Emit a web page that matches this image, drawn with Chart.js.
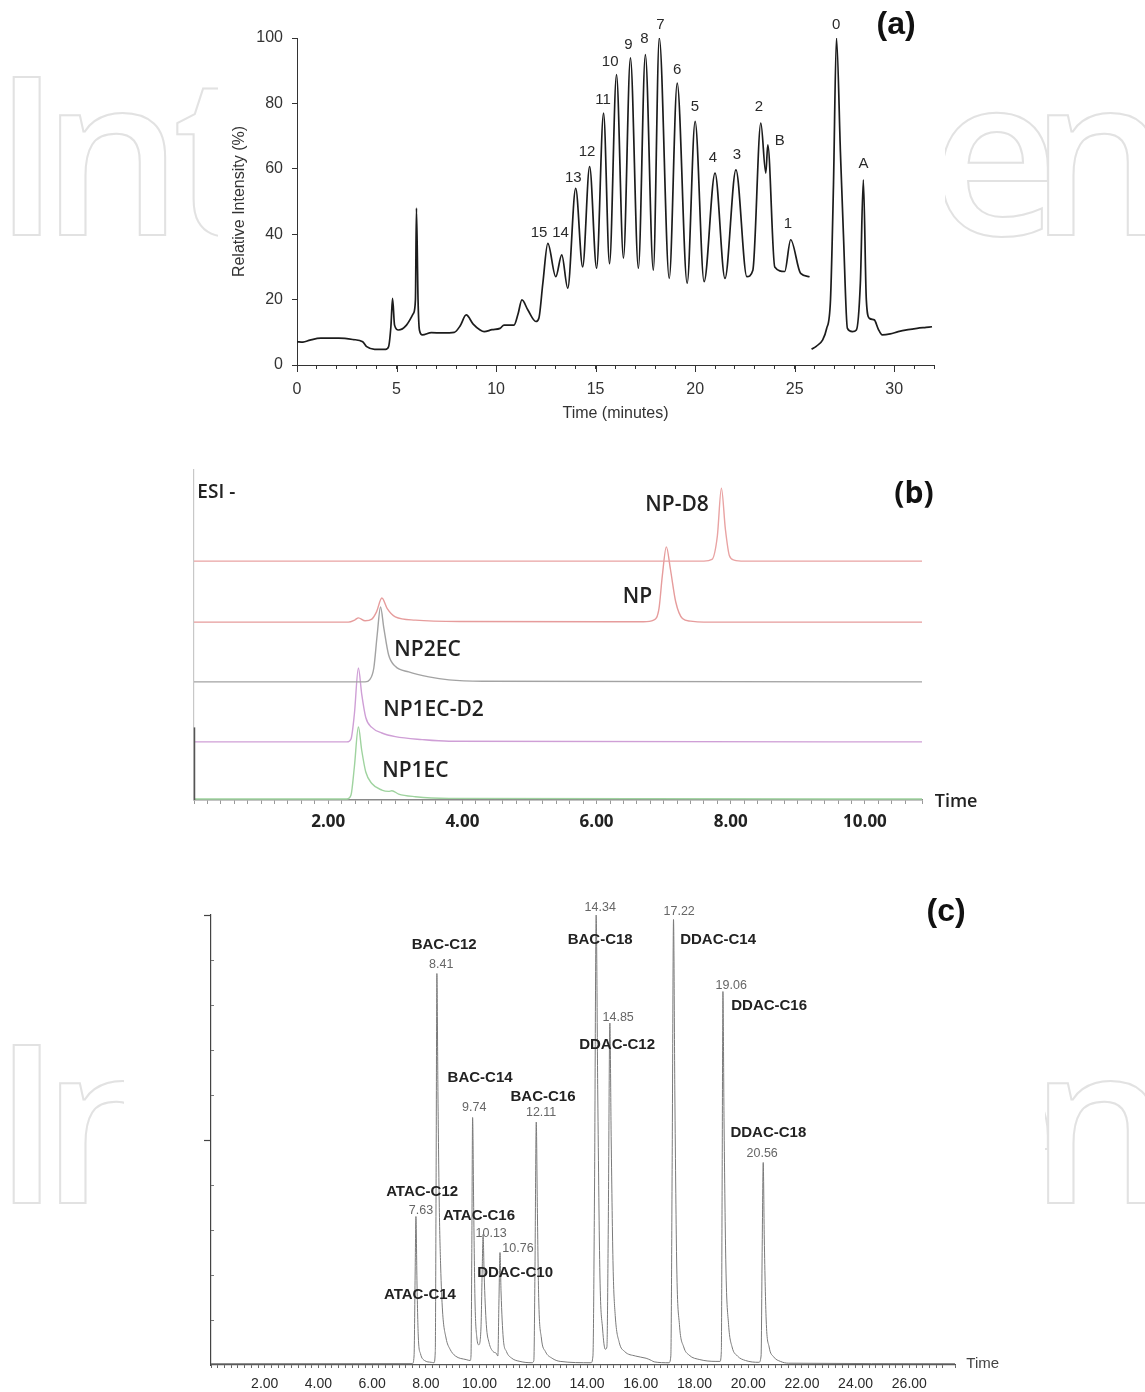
<!DOCTYPE html>
<html><head><meta charset="utf-8">
<script src="https://cdn.jsdelivr.net/npm/chart.js@4.4.1/dist/chart.umd.min.js"></script>
<style>
html,body{margin:0;padding:0;background:#fff;}
body{width:1145px;height:1392px;position:relative;overflow:hidden;}
.box{position:absolute;background:#fff;}
svg{position:absolute;left:0;top:0;}
canvas{display:block;}
</style></head><body>
<svg width="1145" height="1392">
 <g font-family="Open Sans" font-weight="600" font-size="221" fill="none" stroke="#e2e2e2" stroke-width="2">
  <text x="-7 42 173" y="235">Int</text>
  <text x="931 1030" y="235">en</text>
  <text x="-7 42 173" y="1203">Int</text>
  <text x="931 1030" y="1203">en</text>
 </g>
</svg>
<div class="box" style="left:218px;top:0;width:727px;height:440px"><canvas id="cA" width="727" height="440"></canvas></div>
<div class="box" style="left:150px;top:455px;width:845px;height:405px"><canvas id="cB" width="845" height="405"></canvas></div>
<div class="box" style="left:124px;top:870px;width:921px;height:522px"><canvas id="cC" width="921" height="522"></canvas></div>
<script>
// ---------------- Panel (a) data ----------------
const aTime1 = [0,0.3,0.65,1.2,2.1,2.8,3.3,3.5,3.9,4.45,4.6,4.72,4.8,4.9,5.1,5.5,5.85,5.95,6.0,6.08,6.15,6.3,6.75,7.3,7.9,8.2,8.5,8.85,9.2,9.4,9.8,10.2,10.4,10.9,11.1,11.3,11.6,12.0,12.15,12.35,12.6,13.0,13.3,13.6,14.0,14.35,14.7,15.05,15.4,15.7,16.05,16.4,16.75,17.15,17.5,17.9,18.2,18.7,19.1,19.6,20.0,20.45,21.0,21.5,22.05,22.6,22.9,23.3,23.55,23.65,24.0,24.5,24.8,25.3,25.75];
const aInt1  = [7.1,7.0,7.6,8.2,8.2,7.8,7.1,5.6,4.8,4.8,5.6,12,20.4,12.2,10.7,12.2,15.8,20,48,20,10.7,9.2,9.9,9.8,10,12,15.3,12.5,10.7,10.2,10.8,11.2,12.2,12.2,15.5,19.9,16.8,13.3,14.3,25,37.2,27,33.7,23.5,54,30,60.7,29.6,77,31,88.8,32.7,93.9,29.6,94.9,29,100,26.5,86.2,25,74.5,25.5,58.7,26.5,59.7,27,29,74,58.7,67.3,30,28.6,38.3,28,27];
const aTime2 = [25.85,26.1,26.4,26.6,26.8,26.95,27.1,27.3,27.45,27.65,27.9,28.1,28.3,28.45,28.6,28.75,29.0,29.2,29.4,29.8,30.2,30.7,31.15,31.6,31.9];
const aInt2  = [4.8,5.8,7.6,11,19.9,55,100,65,40,11.2,10.2,10.7,25,56.6,20,14.3,13.8,11,9.2,9.5,10.2,10.8,11.2,11.5,11.7];
const aPeakNames = ['15','14','13','12','11','10','9','8','7','6','5','4','3','2','B','1','0','A'];
const aPeakLabelT = [12.16,13.24,13.88,14.57,15.38,15.73,16.65,17.45,18.26,19.1,19.99,20.9,22.1,23.2,24.25,24.66,27.08,28.46];
const aPeakLabelV = [40.3,40.3,57.3,65.3,81.1,92.7,97.8,99.8,104,90.3,78.8,63.3,64.3,78.8,68.4,43.1,104,61.4];
const aXTicks = [0,5,10,15,20,25,30];
const aYTicks = [0,20,40,60,80,100];

// ---------------- Panel (b) data ----------------
const npd8Time = [0,7.6,7.72,7.8,7.86,7.92,7.98,8.05,8.2,10.85];
const npd8Sig  = [72.4,72.4,72.9,80,94.5,82,74,72.7,72.4,72.4];
const npTime = [0,2.3,2.4,2.45,2.55,2.65,2.72,2.8,2.88,3.0,3.3,4.0,6.7,6.85,6.93,6.98,7.04,7.1,7.18,7.28,7.4,7.6,10.85];
const npSig  = [53.9,53.9,54.6,55.2,54.3,54.8,57,61.2,58,55.5,54.5,54.1,54,54.5,58,68,76.7,70,60,55,54.2,53.9,53.9];
const np2ecTime = [0,2.55,2.62,2.68,2.73,2.78,2.83,2.9,3.0,3.2,3.5,3.8,4.3,10.85];
const np2ecSig  = [35.8,35.8,36.5,40,50,58.5,52,44,40.5,38.8,37.3,36.4,36,35.8];
const np1ecd2Time = [0,2.28,2.34,2.39,2.45,2.5,2.56,2.65,2.8,3.0,3.4,3.8,10.85];
const np1ecd2Sig  = [17.6,17.6,18.5,26,40,32,25,22,20.3,19.2,18.3,17.8,17.6];
const np1ecTime = [0,2.28,2.34,2.39,2.45,2.5,2.56,2.65,2.8,2.9,2.95,3.05,3.3,3.8,10.85];
const np1ecSig  = [0.3,0.3,1.5,10,22.1,15,8.5,5,3,2.6,2.8,1.8,1,0.5,0.3];
const bTraceNames = ['NP-D8','NP','NP2EC','NP1EC-D2','NP1EC'];
const bLabelX = [7.2,6.61,3.48,3.57,3.3];
const bLabelY = [89.4,61.5,45.5,27.3,8.8];
const bXTickValues = [2,4,6,8,10];
const bXTickLabels = ['2.00','4.00','6.00','8.00','10.00'];

// ---------------- Panel (c) data ----------------
const cTime = [0,7.5,7.56,7.6,7.63,7.67,7.72,7.8,7.95,8.2,8.3,
  8.35,8.38,8.41,8.45,8.5,8.55,8.62,8.75,8.9,9.1,9.5,9.65,
  9.68,9.71,9.74,9.78,9.83,9.9,9.97,
  10.05,10.1,10.13,10.17,10.25,10.35,10.5,10.62,
  10.68,10.72,10.76,10.8,10.88,11.0,11.2,11.5,11.95,
  12.02,12.06,12.11,12.15,12.2,12.3,12.45,12.7,13.0,14.15,
  14.22,14.28,14.34,14.4,14.48,14.58,14.68,14.74,
  14.79,14.85,14.9,14.97,15.05,15.2,15.4,15.8,16.2,16.4,16.5,17.05,
  17.12,17.17,17.22,17.27,17.34,17.44,17.6,17.8,18.2,18.8,18.95,
  19.0,19.03,19.06,19.1,19.17,19.27,19.4,19.6,19.9,20.4,
  20.48,20.52,20.56,20.6,20.67,20.78,20.95,21.2,21.5,27.7];
const cSig = [0.3,0.3,2,20,33,18,6,2.5,1,0.6,0.5,
  3,40,87,60,35,22,12,6,3.5,2,1.2,1,
  2,25,55,35,14,6,4.5,
  8,22,29,20,9,5,3,2.6,
  2,14,25,16,6,3,1.5,0.8,0.5,
  1,20,54,35,15,6,3,1.5,0.8,0.5,
  2,40,100,60,20,8,3.5,4,
  30,76,50,22,11,5,3,2,1.5,1,0.7,0.5,
  2,45,99,60,22,9,4,2.2,1.2,0.8,0.8,
  3,40,83,55,22,9,4,2,1,0.6,
  2,25,45,28,10,4,1.8,0.8,0.4,0.3];
const cCompounds = ['BAC-C12','BAC-C18','DDAC-C14','DDAC-C16','DDAC-C12','BAC-C14','BAC-C16','DDAC-C18','ATAC-C12','ATAC-C16','DDAC-C10','ATAC-C14'];
const cCompX = [8.68,14.49,18.88,20.78,15.12,10.02,12.36,20.75,7.86,9.98,11.32,7.78];
const cCompY = [93.3,94.4,94.4,79.8,71.1,63.8,59.6,51.6,38.4,33.1,20.4,15.6];
const cRtLabels = ['8.41','14.34','17.22','19.06','14.85','9.74','12.11','20.56','7.63','10.13','10.76'];
const cRtX = [8.57,14.49,17.43,19.37,15.16,9.8,12.29,20.52,7.82,10.43,11.43];
const cRtY = [88.9,101.6,100.7,84.4,77.3,57.3,56.2,46.9,34.4,29.3,25.8];
const cXTickValues = [2,4,6,8,10,12,14,16,18,20,22,24,26];
const cXTickLabels = ['2.00','4.00','6.00','8.00','10.00','12.00','14.00','16.00','18.00','20.00','22.00','24.00','26.00'];

// ---------------- helpers ----------------
const pts = (t, v) => t.map((x, i) => ({x: x, y: v[i]}));
const near = (list, v) => list.findIndex(k => Math.abs(k - v) < 1e-6);
function textLayer(id, items) {
  return { id: id, afterDraw(chart) {
    const ctx = chart.ctx, xs = chart.scales.x, ys = chart.scales.y;
    ctx.save();
    items.forEach(it => {
      ctx.font = it.font; ctx.fillStyle = it.color || '#222';
      ctx.textAlign = it.align || 'center'; ctx.textBaseline = 'middle';
      ctx.fillText(it.text, xs.getPixelForValue(it.x), ys.getPixelForValue(it.y));
    });
    ctx.restore();
  }};
}
const SANS = '"Liberation Sans", Arial, sans-serif';
const OPEN = '"Open Sans", sans-serif';

// ---------------- Chart (a) ----------------
const aItems = aPeakNames.map((n, i) => ({text: n, x: aPeakLabelT[i], y: aPeakLabelV[i], font: '15px ' + SANS, color: '#2a2a2a'}));
aItems.push({text: '(a)', x: 30.1, y: 104, font: 'bold 32px ' + SANS, color: '#111'});
const aMajorTicks = { id: 'aMajor', afterDraw(chart) {
  const ctx = chart.ctx, xs = chart.scales.x, bottom = chart.chartArea.bottom;
  ctx.save(); ctx.strokeStyle = '#333'; ctx.lineWidth = 1;
  aXTicks.forEach(v => { const p = Math.round(xs.getPixelForValue(v)) + 0.5; ctx.beginPath(); ctx.moveTo(p, bottom); ctx.lineTo(p, bottom + 7); ctx.stroke(); });
  ctx.restore();
}};
new Chart(document.getElementById('cA'), {
  type: 'line',
  data: { datasets: [
    { data: pts(aTime1, aInt1) },
    { data: pts(aTime2, aInt2) }
  ]},
  options: {
    responsive: false, animation: false,
    layout: { padding: { top: 38, right: 8, left: 0, bottom: 0 } },
    plugins: { legend: { display: false }, tooltip: { enabled: false } },
    elements: { point: { radius: 0 }, line: { borderWidth: 1.7, borderColor: '#1c1c1c', cubicInterpolationMode: 'monotone', fill: false } },
    scales: {
      x: { type: 'linear', min: 0, max: 32,
        ticks: { stepSize: 1, autoSkip: false, maxRotation: 0, padding: 11, color: '#333', font: { family: SANS, size: 16 },
          callback: v => near(aXTicks, v) >= 0 ? String(aXTicks[near(aXTicks, v)]) : '' },
        grid: { drawOnChartArea: false, tickLength: 4, color: '#333' },
        border: { color: '#333', width: 1 },
        title: { display: true, text: 'Time (minutes)', color: '#333', font: { family: SANS, size: 16 }, padding: { top: 0, bottom: 17 } },
        afterFit: s => { s.height = 75; } },
      y: { min: 0, max: 100,
        ticks: { stepSize: 20, padding: 9, color: '#333', font: { family: SANS, size: 16 },
          callback: v => near(aYTicks, v) >= 0 ? String(v) : '' },
        grid: { drawOnChartArea: false, tickLength: 5, color: '#333' },
        border: { color: '#333', width: 1 },
        title: { display: true, text: 'Relative Intensity (%)', color: '#333', font: { family: SANS, size: 16 }, padding: { top: 12, bottom: 0 } },
        afterFit: s => { s.width = 79; } }
    }
  },
  plugins: [textLayer('txtA', aItems), aMajorTicks]
});

// ---------------- Chart (b) ----------------
const bColors = ['#e9a3a3', '#e69c9c', '#a3a3a3', '#cf9fd6', '#9fd39f'];
const bSeries = [pts(npd8Time, npd8Sig), pts(npTime, npSig), pts(np2ecTime, np2ecSig), pts(np1ecd2Time, np1ecd2Sig), pts(np1ecTime, np1ecSig)];
const bItems = bTraceNames.map((n, i) => ({text: n, x: bLabelX[i], y: bLabelY[i], font: '600 21px ' + OPEN, color: '#222'}));
bItems.push({text: 'ESI -', x: 0.05, y: 93.3, font: '600 19px ' + OPEN, color: '#222', align: 'left'});
bItems.push({text: '(b)', x: 10.73, y: 92.7, font: 'bold 30px ' + OPEN, color: '#111'});
bItems.push({text: 'Time', x: 11.04, y: -0.6, font: '600 18px ' + OPEN, color: '#222', align: 'left'});
const bAxisDark = { id: 'bDark', afterDraw(chart) {
  const ctx = chart.ctx, xs = chart.scales.x, ys = chart.scales.y;
  const p = Math.round(xs.getPixelForValue(0)) + 0.5;
  ctx.save(); ctx.strokeStyle = '#555'; ctx.lineWidth = 1.5;
  ctx.beginPath(); ctx.moveTo(p, ys.getPixelForValue(22)); ctx.lineTo(p, ys.getPixelForValue(0)); ctx.stroke();
  ctx.restore();
}};
new Chart(document.getElementById('cB'), {
  type: 'line',
  data: { datasets: bSeries.map((d, i) => ({ data: d, borderColor: bColors[i] })) },
  options: {
    responsive: false, animation: false,
    layout: { padding: { top: 15, right: 73, left: 0, bottom: 0 } },
    plugins: { legend: { display: false }, tooltip: { enabled: false } },
    elements: { point: { radius: 0 }, line: { borderWidth: 1.4, cubicInterpolationMode: 'monotone', fill: false } },
    scales: {
      x: { type: 'linear', min: 0, max: 10.85,
        ticks: { stepSize: 0.2, autoSkip: false, maxRotation: 0, padding: 8, color: '#222', font: { family: OPEN, size: 17, weight: 'bold' },
          callback: v => near(bXTickValues, v) >= 0 ? bXTickLabels[near(bXTickValues, v)] : '' },
        grid: { drawOnChartArea: false, tickLength: 4, color: '#9a9a9a' },
        border: { color: '#8a8a8a', width: 1.5 },
        afterFit: s => { s.height = 60; } },
      y: { min: 0, max: 100,
        ticks: { display: false },
        grid: { display: false },
        border: { display: true, color: '#c8c8c8', width: 1.2 },
        afterFit: s => { s.width = 44; } }
    }
  },
  plugins: [textLayer('txtB', bItems), bAxisDark]
});

// ---------------- Chart (c) ----------------
const cItems = cCompounds.map((n, i) => ({text: n, x: cCompX[i], y: cCompY[i], font: 'bold 15px ' + SANS, color: '#222'}));
cRtLabels.forEach((n, i) => cItems.push({text: n, x: cRtX[i], y: cRtY[i], font: '12.5px ' + SANS, color: '#666'}));
cItems.push({text: '(c)', x: 27.37, y: 100.7, font: 'bold 32px ' + SANS, color: '#111'});
cItems.push({text: 'Time', x: 28.12, y: 0.2, font: '15px ' + SANS, color: '#444', align: 'left'});
const cYMajor = [50, 100];
const cYTickStep = 10;
const cAxisTicks = { id: 'cTicks', afterDraw(chart) {
  const ctx = chart.ctx, ys = chart.scales.y, left = chart.chartArea.left;
  ctx.save(); ctx.strokeStyle = '#444'; ctx.lineWidth = 1.2;
  cYMajor.forEach(v => { const p = Math.round(ys.getPixelForValue(v)) + 0.5; ctx.beginPath(); ctx.moveTo(left - 7, p); ctx.lineTo(left, p); ctx.stroke(); });
  ctx.strokeStyle = '#777'; ctx.lineWidth = 1;
  for (let v = cYTickStep; v < 100; v += cYTickStep) {
    if (near(cYMajor, v) >= 0) continue;
    const p = Math.round(ys.getPixelForValue(v)) + 0.5;
    ctx.beginPath(); ctx.moveTo(left, p); ctx.lineTo(left + 3, p); ctx.stroke();
  }
  ctx.restore();
}};
new Chart(document.getElementById('cC'), {
  type: 'line',
  data: { datasets: [ { data: pts(cTime, cSig) } ] },
  options: {
    responsive: false, animation: false,
    layout: { padding: { top: 45, right: 90, left: 0, bottom: 0 } },
    plugins: { legend: { display: false }, tooltip: { enabled: false } },
    elements: { point: { radius: 0 }, line: { borderWidth: 1, borderColor: '#7a7a7a', cubicInterpolationMode: 'monotone', fill: false } },
    scales: {
      x: { type: 'linear', min: 0, max: 27.7,
        ticks: { stepSize: 0.25, autoSkip: false, maxRotation: 0, padding: 8, color: '#2a2a2a', font: { family: SANS, size: 14 },
          callback: v => near(cXTickValues, v) >= 0 ? cXTickLabels[near(cXTickValues, v)] : '' },
        grid: { drawOnChartArea: false, tickLength: 3, color: '#666' },
        border: { color: '#555', width: 1.2 },
        afterFit: s => { s.height = 27; } },
      y: { min: 0, max: 100,
        ticks: { display: false },
        grid: { display: false },
        border: { display: true, color: '#444', width: 1.2 },
        afterFit: s => { s.width = 87; } }
    }
  },
  plugins: [textLayer('txtC', cItems), cAxisTicks]
});
</script>
</body></html>
